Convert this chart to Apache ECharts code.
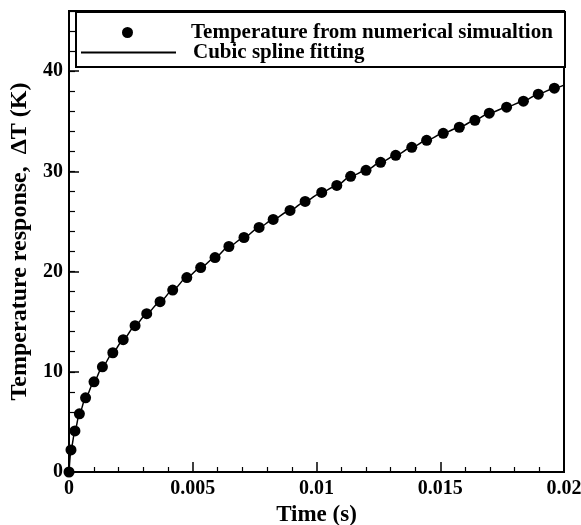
<!DOCTYPE html>
<html>
<head>
<meta charset="utf-8">
<script src="https://cdn.jsdelivr.net/npm/echarts@6/dist/echarts.min.js"></script>
<style>html,body{margin:0;padding:0;background:#fff}#c{width:581px;height:525px}</style>
</head>
<body>
<div id="c"></div>
<script>
// Time (s) of the simulated points
const timeValues = [0, 0.00008, 0.00024, 0.00042, 0.00067, 0.00101, 0.00135, 0.00177, 0.00219, 0.00267,
  0.00314, 0.00368, 0.00419, 0.00476, 0.00532, 0.00590, 0.00646, 0.00707, 0.00768, 0.00825,
  0.00893, 0.00954, 0.01021, 0.01082, 0.01138, 0.01200, 0.01259, 0.01320, 0.01385, 0.01445,
  0.01512, 0.01577, 0.01640, 0.01698, 0.01768, 0.01836, 0.01896, 0.01961];
// Temperature response (K)
const tempValues = [0, 2.2, 4.1, 5.8, 7.4, 9.0, 10.5, 11.9, 13.2, 14.6,
  15.8, 17.0, 18.15, 19.4, 20.4, 21.4, 22.5, 23.4, 24.4, 25.2,
  26.1, 27.0, 27.9, 28.6, 29.5, 30.1, 30.9, 31.6, 32.4, 33.1,
  33.8, 34.4, 35.1, 35.8, 36.4, 37.0, 37.7, 38.3];
// spline continues to the right edge
const fitTime = timeValues.concat([0.02]);
const fitTemp = tempValues.concat([38.6]);

const xTicks = [0, 0.005, 0.01, 0.015, 0.02];
const yTicks = [0, 10, 20, 30, 40];

const seriesNames = ['Temperature from numerical simualtion', 'Cubic spline fitting'];
const xTitle = 'Time (s)';
const yTitle = 'Temperature response,  \u0394T (K)';

const FONT = '"Liberation Serif", "Times New Roman", serif';
const chart = echarts.init(document.getElementById('c'), null, {renderer: 'canvas'});

const pts = timeValues.map((t, i) => [t, tempValues[i]]);
const fitPts = fitTime.map((t, i) => [t, fitTemp[i]]);

function legendText(gap) {
  return {
    fontFamily: FONT, fontWeight: 'bold', fontSize: 21, color: '#000',
    rich: { g: { width: gap } }
  };
}

chart.setOption({
  animation: false,
  backgroundColor: '#fff',
  grid: { left: 69, right: 17, top: 11, bottom: 53, containLabel: false, outerBoundsMode: 'none',
    show: true, borderColor: '#000', borderWidth: 2, backgroundColor: 'transparent' },
  xAxis: {
    type: 'value', min: xTicks[0], max: xTicks[xTicks.length - 1], interval: 0.005,
    name: xTitle, nameLocation: 'middle', nameGap: 21,
    nameTextStyle: { fontFamily: FONT, fontWeight: 'bold', fontSize: 23, color: '#000' },
    axisLine: { show: true, lineStyle: { color: '#000', width: 2 } },
    axisTick: { show: true, inside: true, length: 10, lineStyle: { color: '#000', width: 1.5 } },
    minorTick: { show: true, splitNumber: 5, length: 5, lineStyle: { color: '#000', width: 1.2 } },
    splitLine: { show: false },
    axisLabel: { fontFamily: FONT, fontWeight: 'bold', fontSize: 20, color: '#000', margin: 7,
      formatter: v => (xTicks.indexOf(+v.toFixed(4)) >= 0 ? String(+v.toFixed(4)) : '') }
  },
  yAxis: [
    {
      type: 'value', min: 0, max: 46, interval: 2, position: 'left',
      axisLine: { show: true, lineStyle: { color: '#000', width: 2 } },
      axisTick: { show: true, inside: true, length: 6, lineStyle: { color: '#000', width: 1.2 } },
      splitLine: { show: false },
      axisLabel: { show: false }
    },
    {
      type: 'value', min: 0, max: 46, interval: 10, position: 'left',
      name: yTitle, nameLocation: 'middle', nameGap: 35,
      nameTextStyle: { fontFamily: FONT, fontWeight: 'bold', fontSize: 24, color: '#000' },
      axisLine: { show: true, lineStyle: { color: '#000', width: 2 } },
      axisTick: { show: true, inside: true, length: 10, lineStyle: { color: '#000', width: 1.5 } },
      splitLine: { show: false },
      axisLabel: { fontFamily: FONT, fontWeight: 'bold', fontSize: 20, color: '#000', margin: 6,
        formatter: v => (yTicks.indexOf(v) >= 0 ? String(v) : '') }
    }
  ],
  graphic: [{
    type: 'rect', z: 50, left: 75, top: 11,
    shape: { width: 489, height: 55 },
    style: { fill: '#fff', stroke: '#000', lineWidth: 2 }
  }],
  legend: [
    {
      z: 60, left: 122, top: 22, padding: 0, itemWidth: 11, itemHeight: 11,
      data: [{ name: seriesNames[0], icon: 'circle', itemStyle: { color: '#000', opacity: 1 } }],
      formatter: '{g|}{name}', textStyle: legendText(53), selectedMode: false
    },
    {
      z: 60, left: 80, top: 42, padding: 0, itemWidth: 95, itemHeight: 11,
      data: [{ name: seriesNames[1], itemStyle: { opacity: 0 } }],
      formatter: '{g|}{name}', textStyle: legendText(12), selectedMode: false
    }
  ],
  series: [
    {
      name: seriesNames[1], type: 'line', yAxisIndex: 1, data: fitPts,
      smooth: 0.3, smoothMonotone: 'x', symbol: 'none',
      lineStyle: { color: '#000', width: 1.5 }, itemStyle: { color: '#000' }, z: 2
    },
    {
      name: seriesNames[0], type: 'scatter', yAxisIndex: 1, data: pts,
      symbol: 'circle', symbolSize: 11, itemStyle: { color: '#000', opacity: 1 }, z: 3
    }
  ]
});
</script>
</body>
</html>
